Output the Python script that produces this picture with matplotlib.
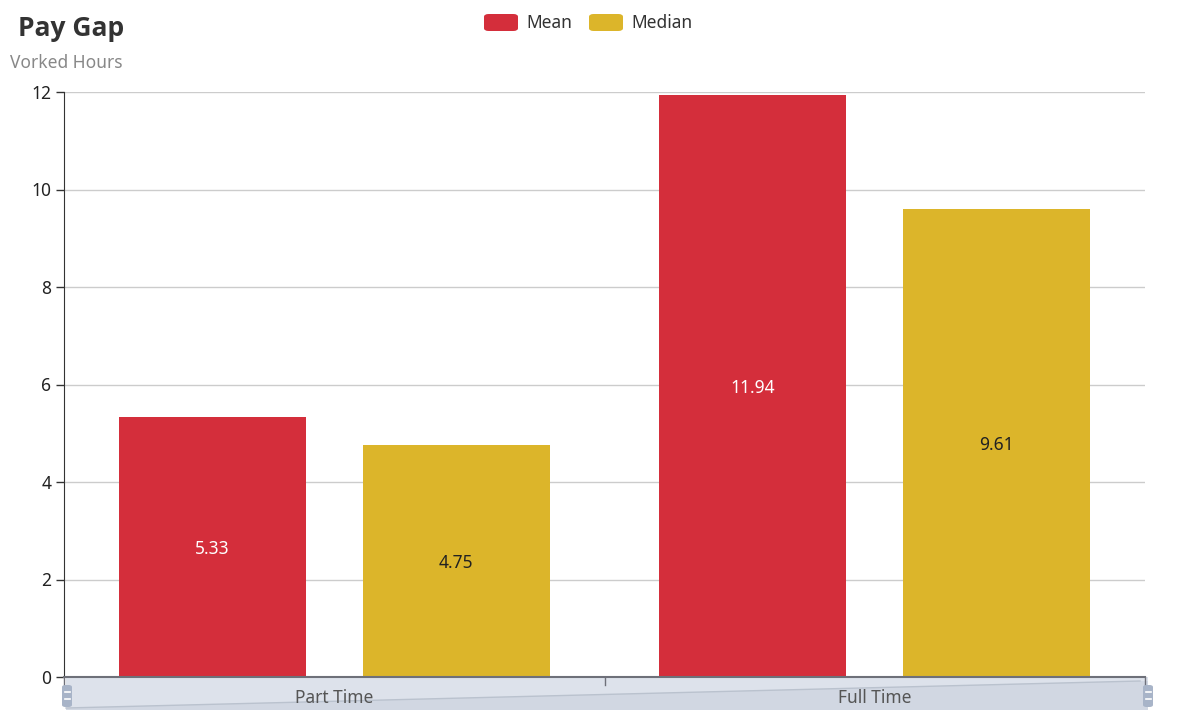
import numpy as np
import matplotlib.pyplot as plt
from matplotlib.patches import FancyBboxPatch, Rectangle, Polygon

# data
categories = ['Part Time', 'Full Time']
series_names = ['Mean', 'Median']
mean_vals = [5.33, 11.94]
median_vals = [4.75, 9.61]
colors = ['#d42e3b', '#dcb52a']
label_colors = ['#ffffff', '#222222']
yticks = [0, 2, 4, 6, 8, 10, 12]

W, H = 1177, 710
plt.rcParams['font.family'] = ['Noto Sans', 'DejaVu Sans']
fig = plt.figure(figsize=(W / 100, H / 100), dpi=100)

def fx(px):
    return px / W

def fy(py):
    return 1 - py / H

left, right, top, bottom = 64, 1145, 92, 677
ax = fig.add_axes([fx(left), fy(bottom), fx(right - left), fy(top) - fy(bottom)])

x = np.arange(len(categories))
bw = 0.346
off = 0.226
for i, vals in enumerate([mean_vals, median_vals]):
    pos = x + (-off if i == 0 else off)
    bars = ax.bar(pos, vals, width=bw, color=colors[i], zorder=3)
    for b, v in zip(bars, vals):
        ax.text(b.get_x() + b.get_width() / 2, v / 2 - 0.04, f'{v:.2f}', ha='center', va='center',
                color=label_colors[i], fontsize=12.5, zorder=4)

ax.set_xlim(-0.5, 1.5)
ax.set_ylim(0, 12)
ax.set_yticks(yticks)
ax.set_yticklabels([str(t) for t in yticks], fontsize=12.5, color='#222222')
ax.tick_params(axis='y', length=6, width=1, color='#333333', pad=3)
ax.set_xticks([])
ax.grid(axis='y', color='#cccccc', lw=1, zorder=0)
for s in ['top', 'right', 'bottom']:
    ax.spines[s].set_visible(False)
ax.spines['left'].set_color('#333333')

# slider (dataZoom) under the axis
sl, sr, st, sb = 66, 1148, 677, 712
fig.patches.append(Rectangle((fx(sl), fy(sb)), fx(sr - sl), fy(st) - fy(sb),
                             transform=fig.transFigure, facecolor='#dde2eb', edgecolor='none', zorder=1))
fig.patches.append(Polygon([(fx(sl), fy(sb)), (fx(sl), fy(708)), (fx(1140), fy(681)),
                            (fx(sr), fy(681)), (fx(sr), fy(sb))],
                           closed=True, transform=fig.transFigure, facecolor='#d1d7e2',
                           edgecolor='none', zorder=1))
fig.lines.append(plt.Line2D([fx(sl), fx(1140)], [fy(708), fy(681)], transform=fig.transFigure,
                            color='#bac2ce', lw=1, zorder=2))
# x axis line and ticks
fig.lines.append(plt.Line2D([fx(left), fx(right)], [fy(bottom), fy(bottom)], transform=fig.transFigure,
                            color='#6e7079', lw=1.5, zorder=5))
for tx in [left, (left + right) / 2, right]:
    fig.lines.append(plt.Line2D([fx(tx), fx(tx)], [fy(bottom), fy(bottom + 8)], transform=fig.transFigure,
                                color='#6e7079', lw=1, zorder=5))
# handles
for hx in [67, 1148]:
    fig.patches.append(FancyBboxPatch((fx(hx - 5), fy(707)), fx(10), fy(685) - fy(707),
                                      boxstyle='round,pad=0,rounding_size=0.003',
                                      transform=fig.transFigure, facecolor='#a8b4c8',
                                      edgecolor='none', zorder=6))
    for hy in [692, 699]:
        fig.lines.append(plt.Line2D([fx(hx - 2.5), fx(hx + 2.5)], [fy(hy), fy(hy)], transform=fig.transFigure,
                                    color='white', lw=1.2, zorder=7))
for i, c in enumerate(categories):
    cx = left + (right - left) * (i + 0.5) / len(categories)
    fig.text(fx(cx), fy(698), c, ha='center', va='center', fontsize=12.5, color='#555555', zorder=8)

# title and subtitle
fig.text(fx(18), fy(28), 'Pay Gap', fontsize=19, fontweight='bold', color='#333333',
         va='center', ha='left', family=['Open Sans', 'DejaVu Sans'])
fig.text(fx(10), fy(63), 'Vorked Hours', fontsize=12.5, color='#888888', va='center', ha='left')

# legend
leg_x = [484, 589]
for i, name in enumerate(series_names):
    fig.patches.append(FancyBboxPatch((fx(leg_x[i]), fy(31)), fx(34), fy(14) - fy(31),
                                      boxstyle='round,pad=0,rounding_size=0.004',
                                      transform=fig.transFigure, facecolor=colors[i], edgecolor='none'))
    fig.text(fx(leg_x[i] + 42), fy(23), name, fontsize=12.5, color='#333333', va='center', ha='left')

fig.savefig('out.png', dpi=100)
